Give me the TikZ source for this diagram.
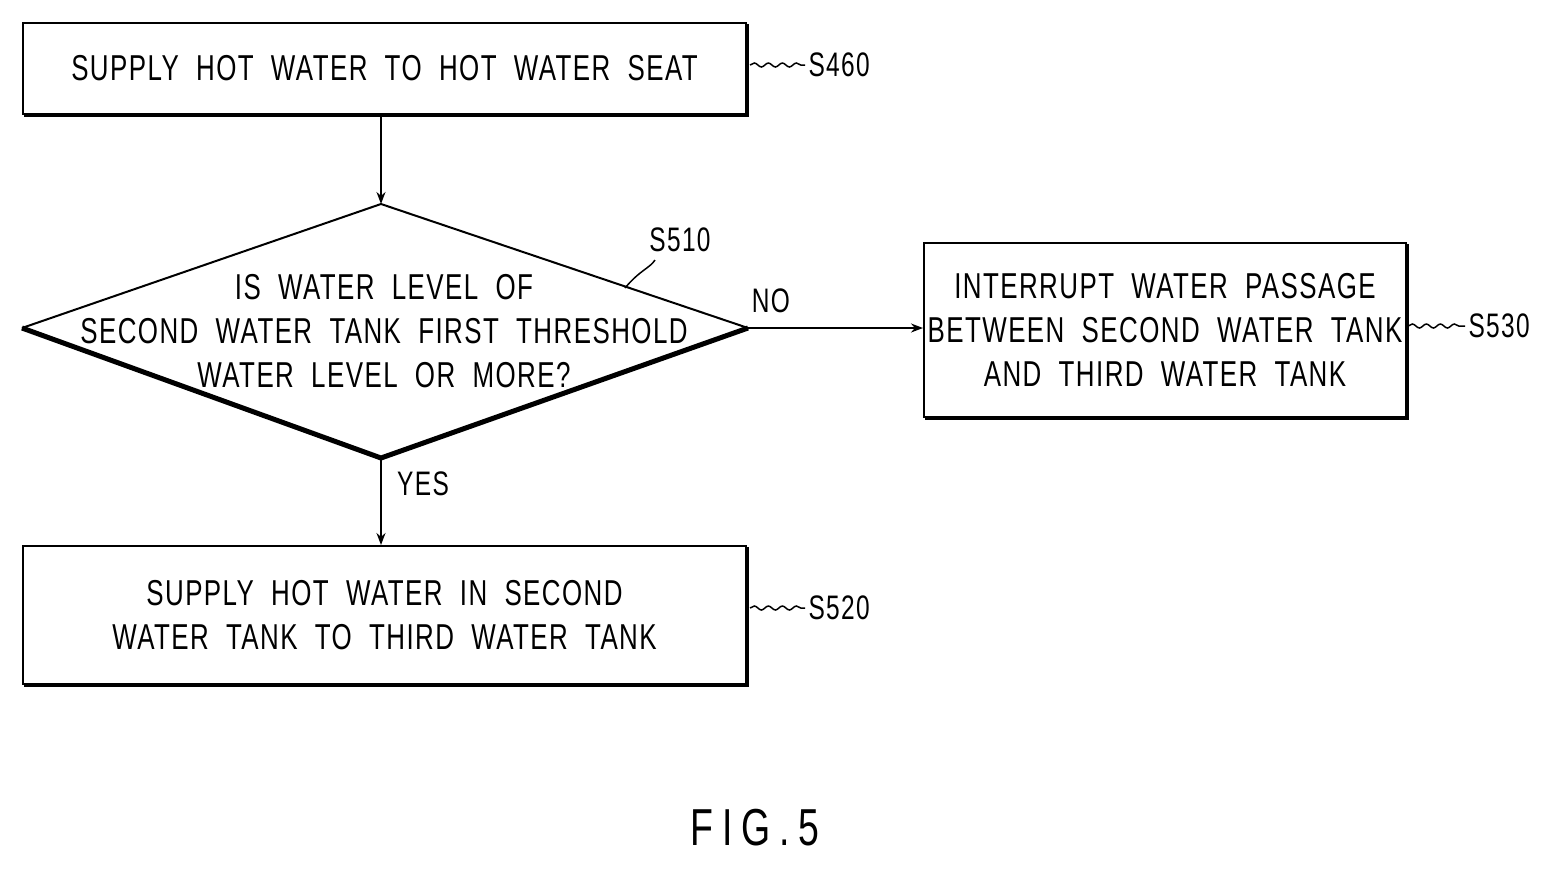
\documentclass[tikz,border=0pt]{standalone}
\usepackage{fontspec}
\setmainfont{Liberation Sans}[FakeStretch=0.72,LetterSpace=4,WordSpace=2]
\usetikzlibrary{arrows.meta,decorations.pathmorphing}
\begin{document}
\begin{tikzpicture}[x=1pt,y=-1pt,
  box/.style={draw,line width=2pt,align=center,font=\fontsize{36}{44}\selectfont,inner sep=0pt},
  lab/.style={font=\fontsize{34}{40}\selectfont},
  arr/.style={line width=1.8pt,-{Stealth[length=12pt,width=9pt]}},
  lead/.style={line width=1.5pt,decorate,decoration={snake,amplitude=2pt,segment length=14pt}}]
\useasboundingbox (0,0) rectangle (1561,868);
\newcommand{\shbox}[5]{% name x1 y1 x2 y2
  \node[box,minimum width=#4-#2,minimum height=#5-#3,anchor=north west] (#1) at (#2,#3) {};
  \draw[line width=4pt] (#2+2,#5+2) -- (#4+2,#5+2) -- (#4+2,#3+2);}
\shbox{a}{22}{22}{745}{113}
\node[box,draw=none] at (a.center) {SUPPLY HOT WATER TO HOT WATER SEAT};
\shbox{c}{22}{545}{745}{683}
\node[box,draw=none] at (c.center) {SUPPLY HOT WATER IN SECOND\\WATER TANK TO THIRD WATER TANK};
\shbox{d}{923}{242}{1405}{416}
\node[box,draw=none] at (d.center) {INTERRUPT WATER PASSAGE\\BETWEEN SECOND WATER TANK\\AND THIRD WATER TANK};
\coordinate (bl) at (22,328); \coordinate (bt) at (381,204);
\coordinate (br) at (748,328); \coordinate (bb) at (381,458);
\draw[line width=2pt] (bl) -- (bt) -- (br);
\draw[line width=5pt,line join=miter] (br) -- (bb) -- (bl);
\node[box,draw=none] (b) at (384,331) {IS WATER LEVEL OF\\SECOND WATER TANK FIRST THRESHOLD\\WATER LEVEL OR MORE?};
\draw[arr] (a.south -| bt) -- (bt);
\draw[arr] (bb) -- (c.north -| bb);
\draw[arr] (br) -- (d.west |- br);
\node[lab] at (771,301) {NO};
\node[lab] at (423,484) {YES};
\node[lab,anchor=west] (l1) at (805,65) {S460};
\draw[lead] (750,65) -- (l1.west);
\node[lab,anchor=west] (l2) at (805,608) {S520};
\draw[lead] (750,608) -- (l2.west);
\node[lab,anchor=west] (l3) at (1465,326) {S530};
\draw[lead] (1408,326) -- (l3.west);
\node[lab] (l4) at (680,240) {S510};
\draw[line width=1.5pt] (625,288) .. controls (640,270) and (650,268) .. (655,260);
\node[font=\fontsize{52}{60}\selectfont] at (755,828) {F\,I\,G\,.\,5};
\end{tikzpicture}
\end{document}
